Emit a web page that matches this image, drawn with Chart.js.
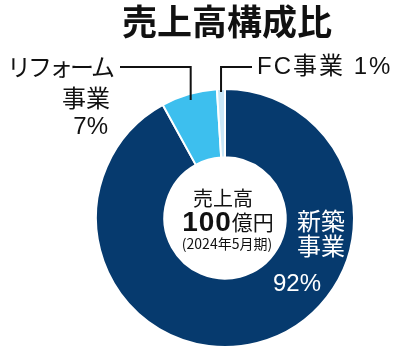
<!DOCTYPE html>
<html>
<head>
<meta charset="utf-8">
<script src="https://cdn.jsdelivr.net/npm/chart.js@4"></script>
<style>
  body { margin: 0; background: #fff; }
  #wrap { width: 398px; height: 360px; }
</style>
</head>
<body>
<div id="wrap"><canvas id="pie" width="398" height="360"></canvas></div>
<script>
// data
const categories = ['新築事業', 'リフォーム事業', 'FC事業'];
const shares = [92, 7, 1];
const colors = ['#063a6e', '#3dbfee', '#c9e7f8'];
const titleText = '売上高構成比';
const centerLines = ['売上高', '100', '億円', '(2024年5月期)'];

const latin = '"Liberation Sans", "Noto Sans CJK JP", sans-serif';
const jp = '"Noto Sans CJK JP", sans-serif';

// leader line from a label to the edge of a slice
function leader(ctx, arc, fromX, lineY, inset) {
    const mid = (arc.startAngle + arc.endAngle) / 2;
    const r = arc.outerRadius - inset;
    const ax = arc.x + Math.cos(mid) * r;
    const ay = arc.y + Math.sin(mid) * r;
    ctx.beginPath();
    ctx.moveTo(fromX, lineY);
    ctx.lineTo(ax, lineY);
    ctx.lineTo(ax, ay);
    ctx.stroke();
}

const labelPlugin = {
    id: 'labels',
    afterDraw(chart) {
        const ctx = chart.ctx;
        const arcs = chart.getDatasetMeta(0).data;
        ctx.save();
        ctx.textBaseline = 'middle';

        // title
        ctx.fillStyle = '#111';
        ctx.textAlign = 'center';
        ctx.font = 'bold 35px ' + jp;
        ctx.fillText(titleText, 227, 22);

        // labels outside
        ctx.textAlign = 'right';
        ctx.font = '24px ' + jp;
        ctx.letterSpacing = '-3px';
        ctx.fillText('リフォーム', 112, 67);
        ctx.letterSpacing = '0px';
        ctx.fillText('事業', 110, 98);
        ctx.font = '24px ' + latin;
        ctx.fillText(shares[1] + '%', 108, 127);

        ctx.textAlign = 'left';
        ctx.font = '24px ' + latin;
        ctx.letterSpacing = '2px';
        ctx.fillText('FC事業 ' + shares[2] + '%', 257, 67);
        ctx.letterSpacing = '0px';

        ctx.strokeStyle = '#111';
        ctx.lineWidth = 2;
        leader(ctx, arcs[1], 120, 67, 6);
        leader(ctx, arcs[2], 252, 67, 3);

        // inside the dark slice
        ctx.fillStyle = '#fff';
        ctx.textAlign = 'center';
        ctx.font = '24px ' + jp;
        ctx.fillText('新築', 321, 221);
        ctx.fillText('事業', 321, 246);
        ctx.font = '24px ' + latin;
        ctx.fillText(shares[0] + '%', 297, 284);

        // centre of the hole
        ctx.fillStyle = '#111';
        ctx.font = '20px ' + jp;
        ctx.fillText(centerLines[0], 223, 198);

        ctx.font = 'bold 28px ' + latin;
        ctx.letterSpacing = '1px';
        const w1 = ctx.measureText(centerLines[1]).width;
        ctx.letterSpacing = '0px';
        ctx.font = '21px ' + jp;
        const w2 = ctx.measureText(centerLines[2]).width;
        const x0 = 228 - (w1 + w2) / 2;
        ctx.textAlign = 'left';
        ctx.font = 'bold 28px ' + latin;
        ctx.letterSpacing = '1px';
        ctx.fillText(centerLines[1], x0, 223);
        ctx.letterSpacing = '0px';
        ctx.font = '21px ' + jp;
        ctx.fillText(centerLines[2], x0 + w1, 222);

        ctx.textAlign = 'center';
        ctx.font = '14px ' + jp;
        ctx.fillText(centerLines[3], 227, 244);
        ctx.restore();
    }
};

new Chart(document.getElementById('pie'), {
    type: 'doughnut',
    data: {
        labels: categories,
        datasets: [{
            data: shares,
            backgroundColor: colors,
            borderColor: '#fff',
            borderWidth: 2
        }]
    },
    options: {
        responsive: false,
        animation: false,
        cutout: '47%',
        layout: { padding: { left: 95, right: 43, top: 88, bottom: 12 } },
        plugins: {
            legend: { display: false },
            tooltip: { enabled: false }
        },
        events: []
    },
    plugins: [labelPlugin]
});
</script>
</body>
</html>
